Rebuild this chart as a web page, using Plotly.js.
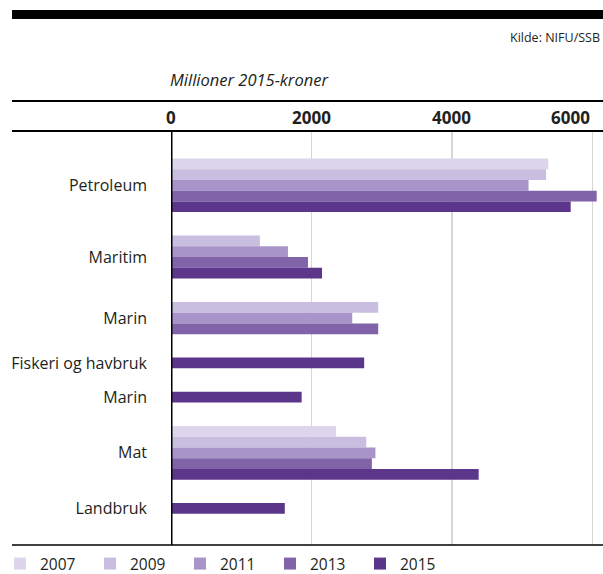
<!DOCTYPE html>
<html>
<head>
<meta charset="utf-8">
<script src="https://cdn.plot.ly/plotly-3.0.1.min.js"></script>
<style>html,body{margin:0;padding:0;background:#fff}#chart{width:603px;height:574px}</style>
</head>
<body>
<div id="chart"></div>
<script>
const categories = ["Petroleum", "Maritim", "Marin", "Fiskeri og havbruk", "Marin", "Mat", "Landbruk"];
const years = ["2007", "2009", "2011", "2013", "2015"];
const v2007 = [5370, null, null, null, null, 2350, null];
const v2009 = [5340, 1265, 2950, null, null, 2780, null];
const v2011 = [5090, 1665, 2580, null, null, 2910, null];
const v2013 = [6060, 1950, 2950, null, null, 2860, null];
const v2015 = [5690, 2150, null, 2750, 1860, 4380, 1620];
const xTicks = [0, 2000, 4000, 6000];
const xTickLabels = ["0", "2000", "4000", "6000"];
const colors = ["#DCD5EB", "#C9BEDF", "#A894C8", "#8063A8", "#5B368A"];

const series = [v2007, v2009, v2011, v2013, v2015];
const GAP = 2.18;
// compute row positions: each present bar gets its own row, groups separated by GAP
const yPos = series.map(() => categories.map(() => null));
const centers = [];
let pos = 0;
categories.forEach((c, i) => {
  const rows = [];
  series.forEach((s, k) => {
    if (s[i] !== null) { yPos[k][i] = pos; rows.push(pos); pos += 1; }
  });
  centers.push((rows[0] + rows[rows.length - 1]) / 2);
  pos += GAP;
});
const lastRow = pos - GAP - 1;

const traces = series.map((s, k) => ({
  type: "bar",
  orientation: "h",
  name: years[k],
  x: s.filter(v => v !== null),
  y: yPos[k].filter(v => v !== null),
  width: 1,
  marker: { color: colors[k], line: { width: 0 } },
  hoverinfo: "x+name"
}));

// pixel helpers (plot area: left 171, right 603, top 131, bottom 545)
const L = 171, R = 603, T = 131, B = 545;
const px2x = p => (p - L) / (R - L);
const py2y = p => (B - p) / (B - T);

const font = "Open Sans, Noto Sans, sans-serif";
const txt = "#231F20";

const annotations = xTicks.map((v, i) => ({
  x: v, xref: "x", y: 1, yref: "paper", yshift: 14,
  xanchor: i === xTicks.length - 1 ? "right" : "center", yanchor: "middle",
  text: xTickLabels[i], showarrow: false,
  font: { family: font, size: 17, color: txt, weight: 700 }
}));
annotations.push({
  x: px2x(168), xref: "paper", y: py2y(80), yref: "paper",
  xanchor: "left", yanchor: "middle", showarrow: false,
  text: "<i>Millioner 2015-kroner</i>",
  font: { family: font, size: 16.5, color: txt }
});
annotations.push({
  x: px2x(602), xref: "paper", y: py2y(38), yref: "paper",
  xanchor: "right", yanchor: "middle", showarrow: false,
  text: "Kilde: NIFU/SSB",
  font: { family: font, size: 12.5, color: txt }
});

const shapes = [
  { type: "rect", xref: "paper", yref: "paper", x0: px2x(12), x1: px2x(603), y0: py2y(19), y1: py2y(10), fillcolor: "#000", line: { width: 0 } },
  { type: "line", xref: "paper", yref: "paper", x0: px2x(12), x1: px2x(603), y0: py2y(101), y1: py2y(101), line: { color: "#000", width: 2.2 } },
  { type: "line", xref: "paper", yref: "paper", x0: px2x(12), x1: px2x(603), y0: py2y(131), y1: py2y(131), line: { color: "#000", width: 2.2 } },
  { type: "line", xref: "paper", yref: "paper", x0: px2x(12), x1: px2x(603), y0: py2y(545), y1: py2y(545), line: { color: "#000", width: 1.3 } },
  { type: "line", xref: "x", yref: "paper", x0: 0, x1: 0, y0: 0, y1: 1, layer: "above", line: { color: "#000", width: 3 } }
];

const layout = {
  width: 603, height: 574,
  margin: { l: L, r: 603 - R, t: T, b: 574 - B, pad: 0, autoexpand: false },
  paper_bgcolor: "#fff", plot_bgcolor: "#fff",
  barmode: "overlay",
  showlegend: true,
  legend: {
    orientation: "h", x: px2x(0), xanchor: "left", y: py2y(547), yanchor: "top",
    font: { family: font, size: 15.5, color: txt },
    entrywidth: 45, entrywidthmode: "pixels", traceorder: "normal",
    bgcolor: "rgba(0,0,0,0)"
  },
  xaxis: {
    range: [0, 6150], showgrid: true, gridcolor: "#D6D6D6", gridwidth: 1.5,
    tickvals: [2000, 4000, 6000], showticklabels: false, zeroline: false,
    showline: false, ticks: "", fixedrange: true
  },
  yaxis: {
    range: [lastRow + 0.5 + 2.9, -0.5 - 2.55],
    tickvals: centers, ticktext: categories, ticks: "",
    ticklabelstandoff: 23,
    showgrid: false, zeroline: false, showline: false,
    tickfont: { family: font, size: 16, color: txt }, fixedrange: true
  },
  shapes: shapes,
  annotations: annotations,
  font: { family: font, color: txt }
};

Plotly.newPlot("chart", traces, layout, { displayModeBar: false, staticPlot: true });
</script>
</body>
</html>
